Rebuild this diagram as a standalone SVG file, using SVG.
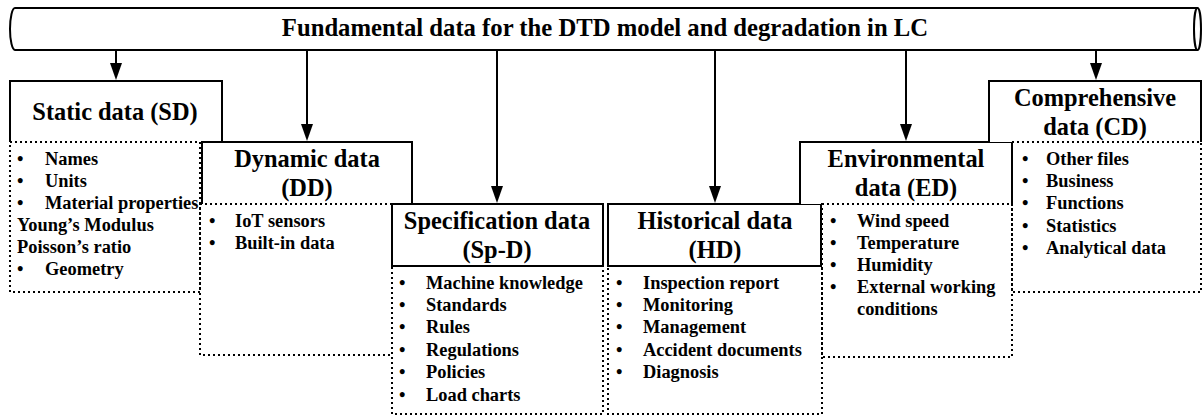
<svg xmlns="http://www.w3.org/2000/svg" width="1203" height="416" viewBox="0 0 1203 416">
  <style>
    .solid { fill: #fff; stroke: #000; stroke-width: 2; }
    .open { fill: none; stroke: #000; stroke-width: 2; }
    .dots { fill: none; stroke: #000; stroke-width: 2; stroke-dasharray: 2 3; }
    .link { stroke: #000; stroke-width: 2; fill: none; marker-end: url(#head); }
    text { font-family: "Liberation Serif", "Times New Roman", serif; font-weight: bold; fill: #000; }
    .title { font-size: 24.7px; text-anchor: middle; }
    .head { font-size: 24.4px; text-anchor: middle; }
    .item { font-size: 18.4px; }
  </style>
  <defs>
    <marker id="head" markerUnits="userSpaceOnUse" markerWidth="18" markerHeight="12" refX="9" refY="6" orient="auto">
      <path d="M0,0 L17,6 L0,12 Z" fill="#000"/>
    </marker>
  </defs>

  <!-- banner: horizontal cylinder -->
  <g id="banner">
    <path class="solid" d="M15,8 L1197,8 L1197,50 L15,50 A5,21 0 0 1 15,8 Z"/>
    <ellipse class="solid" cx="1197.5" cy="29" rx="3.5" ry="21"/>
    <text class="title" x="605" y="36">Fundamental data for the DTD model and degradation in LC</text>
  </g>

  <!-- connectors from the banner down to each data category -->
  <g id="connectors">
    <line class="link" x1="116" y1="50" x2="116" y2="72"/>
    <line class="link" x1="307" y1="50" x2="307" y2="133"/>
    <line class="link" x1="497" y1="50" x2="497" y2="195"/>
    <line class="link" x1="715" y1="50" x2="715" y2="195"/>
    <line class="link" x1="906" y1="50" x2="906" y2="133"/>
    <line class="link" x1="1096" y1="50" x2="1096" y2="72"/>
  </g>

  <!-- Static data -->
  <g id="sd">
    <path class="open" d="M10,142 L10,81 L222,81 L222,142"/>
    <rect class="dots" x="10" y="142" width="190" height="150"/>
    <text class="head" x="115" y="120">Static data (SD)</text>
    <text class="item" x="17" y="165">•<tspan x="45">Names</tspan></text>
    <text class="item" x="17" y="187">•<tspan x="45">Units</tspan></text>
    <text class="item" x="17" y="209">•<tspan x="45">Material properties</tspan></text>
    <text class="item" x="17" y="231">Young’s Modulus</text>
    <text class="item" x="17" y="253">Poisson’s ratio</text>
    <text class="item" x="17" y="275">•<tspan x="45">Geometry</tspan></text>
  </g>

  <!-- Dynamic data -->
  <g id="dd">
    <path class="solid" d="M202,204 L202,142 L412,142 L412,204"/>
    <rect class="dots" x="200" y="204" width="192" height="151"/>
    <text class="head" x="307" y="167">Dynamic data</text>
    <text class="head" x="307" y="196">(DD)</text>
    <text class="item" x="209" y="227">•<tspan x="235">IoT sensors</tspan></text>
    <text class="item" x="209" y="249">•<tspan x="235">Built-in data</tspan></text>
  </g>

  <!-- Specification data -->
  <g id="spd">
    <rect class="dots" x="392" y="266" width="211" height="148"/>
    <rect class="solid" x="392" y="204" width="211" height="62"/>
    <text class="head" x="497" y="229">Specification data</text>
    <text class="head" x="497" y="258">(Sp-D)</text>
    <text class="item" x="399" y="289">•<tspan x="426">Machine knowledge</tspan></text>
    <text class="item" x="399" y="311">•<tspan x="426">Standards</tspan></text>
    <text class="item" x="399" y="333">•<tspan x="426">Rules</tspan></text>
    <text class="item" x="399" y="356">•<tspan x="426">Regulations</tspan></text>
    <text class="item" x="399" y="378">•<tspan x="426">Policies</tspan></text>
    <text class="item" x="399" y="401">•<tspan x="426">Load charts</tspan></text>
  </g>

  <!-- Historical data -->
  <g id="hd">
    <rect class="dots" x="608" y="266" width="214" height="148"/>
    <rect class="solid" x="608" y="204" width="213" height="62"/>
    <text class="head" x="715" y="229">Historical data</text>
    <text class="head" x="715" y="258">(HD)</text>
    <text class="item" x="616" y="289">•<tspan x="643">Inspection report</tspan></text>
    <text class="item" x="616" y="311">•<tspan x="643">Monitoring</tspan></text>
    <text class="item" x="616" y="333">•<tspan x="643">Management</tspan></text>
    <text class="item" x="616" y="356">•<tspan x="643">Accident documents</tspan></text>
    <text class="item" x="616" y="378">•<tspan x="643">Diagnosis</tspan></text>
  </g>

  <!-- Environmental data -->
  <g id="ed">
    <path class="solid" d="M800,204 L800,142 L1012,142 L1012,204"/>
    <rect class="dots" x="822" y="204" width="190" height="153"/>
    <text class="head" x="906" y="167">Environmental</text>
    <text class="head" x="906" y="196">data (ED)</text>
    <text class="item" x="830" y="227">•<tspan x="857">Wind speed</tspan></text>
    <text class="item" x="830" y="249">•<tspan x="857">Temperature</tspan></text>
    <text class="item" x="830" y="271">•<tspan x="857">Humidity</tspan></text>
    <text class="item" x="830" y="293">•<tspan x="857">External working</tspan></text>
    <text class="item" x="857" y="315">conditions</text>
  </g>

  <!-- Comprehensive data -->
  <g id="cd">
    <path class="solid" d="M989,142 L989,81 L1201,81 L1201,142"/>
    <rect class="dots" x="1012" y="142" width="189" height="150"/>
    <text class="head" x="1095" y="106">Comprehensive</text>
    <text class="head" x="1095" y="135">data (CD)</text>
    <text class="item" x="1022" y="165">•<tspan x="1046">Other files</tspan></text>
    <text class="item" x="1022" y="187">•<tspan x="1046">Business</tspan></text>
    <text class="item" x="1022" y="209">•<tspan x="1046">Functions</tspan></text>
    <text class="item" x="1022" y="232">•<tspan x="1046">Statistics</tspan></text>
    <text class="item" x="1022" y="254">•<tspan x="1046">Analytical data</tspan></text>
  </g>
</svg>
